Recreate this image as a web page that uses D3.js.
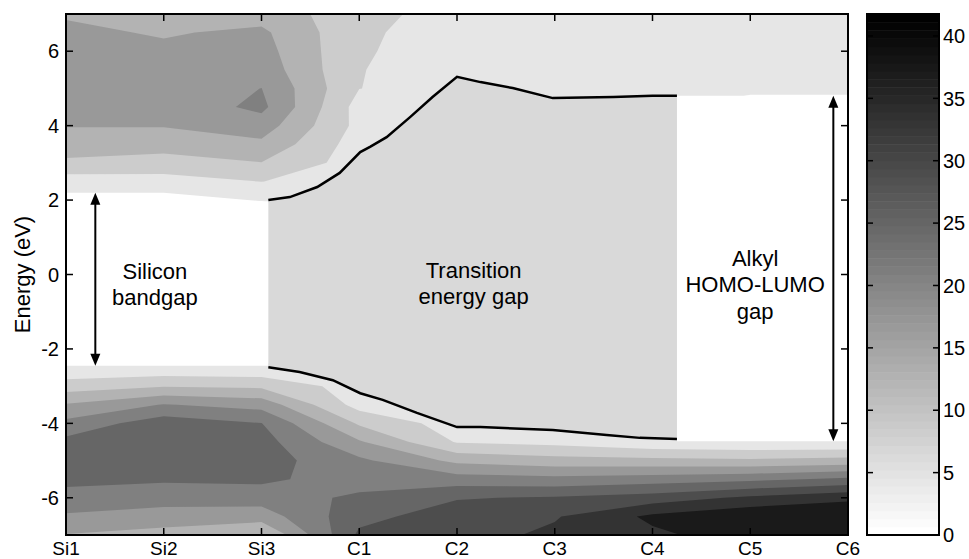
<!DOCTYPE html>
<html>
<head>
<meta charset="utf-8">
<script src="https://cdn.jsdelivr.net/npm/d3@7"></script>
<style>
  body { margin: 0; background: #fff; }
  text { font-family: "Liberation Sans", Arial, sans-serif; fill: #000; }
</style>
</head>
<body>
<div id="chart"></div>
<script>
const width = 969;
const height = 559;

// layer labels along the x axis
const columns = ["Si1", "Si2", "Si3", "C1", "C2", "C3", "C4", "C5", "C6"];

// energy grid (eV), bottom to top
const energies = [-7, -6.5, -6, -5.5, -5, -4.5, -4, -3.5, -3, -2.5, -2, -1.5, -1, -0.5,
  0, 0.5, 1, 1.5, 2, 2.5, 3, 3.5, 4, 4.5, 5, 5.5, 6, 6.5, 7];

// local density of states for each layer, one value per energy above
const dosSi1 = [16.5, 20.3, 23.5, 26.1, 26.7, 26.3, 22.0, 17.0, 10.4, 4.8, 0, 0, 0, 0,
  0, 0, 0, 0, 5.0, 6.3, 11.5, 15.4, 16.8, 17.9, 18.3, 18.3, 17.9, 17.5, 16.3];
const dosSi2 = [15.0, 19.1, 22.6, 25.6, 27.1, 27.5, 27.5, 21.1, 12.2, 5.1, 0, 0, 0, 0,
  0, 0, 0, 0, 5.0, 6.7, 10.8, 14.2, 16.9, 17.9, 18.3, 18.1, 17.5, 16.3, 15.0];
const dosSi3 = [12.1, 18.7, 22.7, 25.9, 26.9, 26.7, 25.1, 19.3, 11.7, 4.8, 0, 0, 0, 0,
  0, 0, 0, 0, 4.4, 8.4, 12.4, 15.8, 18.8, 21.9, 20.9, 19.2, 18.3, 17.5, 15.0];
const dosC1 = [30.0, 27.9, 25.9, 22.9, 21.7, 17.2, 11.9, 6.6, 6.3, 6.3, 6.3, 6.3, 6.3, 6.3,
  6.3, 6.3, 6.3, 6.3, 6.3, 6.3, 6.3, 6.3, 7.1, 6.7, 8.4, 8.5, 8.8, 9.1, 10.0];
const dosC2 = [31.7, 31.3, 28.9, 22.8, 15.6, 8.0, 6.3, 6.3, 6.3, 6.3, 6.3, 6.3, 6.3, 6.3,
  6.3, 6.3, 6.3, 6.3, 6.3, 6.3, 6.3, 6.3, 6.3, 6.3, 6.3, 6.3, 6.3, 6.3, 6.3];
const dosC3 = [34.2, 33.0, 29.6, 22.1, 14.2, 7.1, 6.3, 6.3, 6.3, 6.3, 6.3, 6.3, 6.3, 6.3,
  6.3, 6.3, 6.3, 6.3, 6.3, 6.3, 6.3, 6.3, 6.3, 6.3, 6.3, 6.3, 6.3, 6.3, 6.3];
const dosC4 = [36.7, 38.4, 31.1, 23.0, 13.7, 5.0, 6.3, 6.3, 6.3, 6.3, 6.3, 6.3, 6.3, 6.3,
  6.3, 6.3, 6.3, 6.3, 6.3, 6.3, 6.3, 6.3, 6.3, 6.3, 6.3, 6.3, 6.3, 6.3, 6.3];
const dosC5 = [39.6, 40.9, 34.2, 24.0, 13.3, 4.5, 0, 0, 0, 0, 0, 0, 0, 0,
  0, 0, 0, 0, 0, 0, 0, 0, 0, 0, 6.3, 6.3, 6.3, 6.3, 6.3];
const dosC6 = [40.4, 41.3, 36.6, 25.9, 14.1, 4.5, 0, 0, 0, 0, 0, 0, 0, 0,
  0, 0, 0, 0, 0, 0, 0, 0, 0, 0, 6.3, 6.3, 6.3, 6.3, 6.3];

// contour levels and colour bar range
const levels = [4.17, 8.34, 12.51, 16.68, 20.85, 25.02, 29.19, 33.36, 37.53];
const dosMax = 41.76;
const colorTicks = [0, 5, 10, 15, 20, 25, 30, 35, 40];
const energyTicks = [-6, -4, -2, 0, 2, 4, 6];

// transition region edges (x in layer index units)
const lumoX = [2.07, 2.29, 2.57, 2.80, 3.01, 3.11, 3.28, 3.52, 3.75, 4.0, 4.24, 4.57, 4.98, 5.60, 6.0, 6.25];
const lumoE = [2.0, 2.08, 2.35, 2.73, 3.29, 3.43, 3.69, 4.23, 4.77, 5.31, 5.17, 5.01, 4.74, 4.77, 4.80, 4.80];
const homoX = [2.07, 2.39, 2.73, 3.01, 3.24, 3.59, 4.0, 4.24, 4.98, 5.53, 5.87, 6.25];
const homoE = [-2.49, -2.62, -2.84, -3.19, -3.37, -3.72, -4.10, -4.10, -4.18, -4.31, -4.39, -4.42];

// silicon band edges and alkyl gap edges
const siGapX = [0, 1, 2, 2.07];
const siCBM = [2.2, 2.2, 1.97, 1.97];
const siVBM = [-2.45, -2.45, -2.45, -2.45];
const alkylGapX = [6.25, 8];
const alkylLUMO = [4.8, 4.8];
const alkylHOMO = [-4.48, -4.48];

// gap arrows: position (layer index), top and bottom energies
const arrowX = [0.3, 7.85];
const arrowTop = [2.2, 4.8];
const arrowBottom = [-2.45, -4.48];

const x = d3.scaleLinear().domain([0, columns.length - 1]).range([66, 848]);
const y = d3.scaleLinear().domain([-7, 7]).range([535, 14]);
const grey = d3.scaleLinear().domain([0, dosMax]).range(["#ffffff", "#000000"]);

const svg = d3.select("#chart").append("svg")
  .attr("width", width)
  .attr("height", height);

svg.append("clipPath").attr("id", "plot-clip")
  .append("rect")
  .attr("x", x(0)).attr("y", y(7))
  .attr("width", x(8) - x(0)).attr("height", y(-7) - y(7));

// build grid: row j = energy, column i = layer
const profiles = [dosSi1, dosSi2, dosSi3, dosC1, dosC2, dosC3, dosC4, dosC5, dosC6];
const nx = profiles.length, ny = energies.length;
const grid = new Array(nx * ny);
for (let j = 0; j < ny; j++) {
  for (let i = 0; i < nx; i++) grid[j * nx + i] = profiles[i][j];
}
const dE = energies[1] - energies[0];

const bands = d3.contours().size([nx, ny]).thresholds(levels)(grid);

const gridToPlot = d3.geoTransform({
  point: function(gx, gy) {
    this.stream.point(x(gx - 0.5), y(energies[0] + (gy - 0.5) * dE));
  }
});
const path = d3.geoPath().projection(gridToPlot);

const g = svg.append("g").attr("clip-path", "url(#plot-clip)");

g.selectAll("path.band")
  .data(bands)
  .enter().append("path")
  .attr("class", "band")
  .attr("d", path)
  .attr("fill", d => grey(d.value))
  .attr("stroke", "none");

// band gaps
const gapArea = d3.area()
  .x(d => x(d[0]))
  .y0(d => y(d[1]))
  .y1(d => y(d[2]));

g.append("path")
  .attr("d", gapArea(siGapX.map((v, i) => [v, siVBM[i], siCBM[i]])))
  .attr("fill", "#fff");

g.append("path")
  .attr("d", gapArea(alkylGapX.map((v, i) => [v, alkylHOMO[i], alkylLUMO[i]])))
  .attr("fill", "#fff");

// transition region
const lumo = lumoX.map((v, i) => [v, lumoE[i]]);
const homo = homoX.map((v, i) => [v, homoE[i]]);
const line = d3.line().x(d => x(d[0])).y(d => y(d[1]));

g.append("path")
  .attr("d", line(lumo.concat(homo.slice().reverse())) + "Z")
  .attr("fill", "#d9d9d9");

[lumo, homo].forEach(pts => {
  g.append("path")
    .attr("d", line(pts))
    .attr("fill", "none")
    .attr("stroke", "#000")
    .attr("stroke-width", 2.5);
});

// frame
svg.append("rect")
  .attr("x", x(0)).attr("y", y(7))
  .attr("width", x(8) - x(0)).attr("height", y(-7) - y(7))
  .attr("fill", "none").attr("stroke", "#000").attr("stroke-width", 2);

const tickLen = 7;
const ticks = svg.append("g").attr("stroke", "#000").attr("stroke-width", 1.5);
columns.forEach((c, i) => {
  ticks.append("line").attr("x1", x(i)).attr("x2", x(i)).attr("y1", y(-7)).attr("y2", y(-7) - tickLen);
  ticks.append("line").attr("x1", x(i)).attr("x2", x(i)).attr("y1", y(7)).attr("y2", y(7) + tickLen);
});
energyTicks.forEach(e => {
  ticks.append("line").attr("x1", x(0)).attr("x2", x(0) + tickLen).attr("y1", y(e)).attr("y2", y(e));
  ticks.append("line").attr("x1", x(8)).attr("x2", x(8) - tickLen).attr("y1", y(e)).attr("y2", y(e));
});

svg.append("g").selectAll("text")
  .data(columns)
  .enter().append("text")
  .attr("x", (d, i) => x(i))
  .attr("y", 555)
  .attr("text-anchor", "middle")
  .attr("font-size", 19)
  .text(d => d);

svg.append("g").selectAll("text")
  .data(energyTicks)
  .enter().append("text")
  .attr("x", 59)
  .attr("y", d => y(d))
  .attr("dy", "0.36em")
  .attr("text-anchor", "end")
  .attr("font-size", 20)
  .text(d => d);

svg.append("text")
  .attr("transform", `translate(30,${y(0)}) rotate(-90)`)
  .attr("text-anchor", "middle")
  .attr("font-size", 22)
  .text("Energy (eV)");

// arrows
const headLen = 12, headW = 5;
arrowX.forEach((ax, i) => {
  const px = x(ax), top = y(arrowTop[i]), bot = y(arrowBottom[i]);
  svg.append("line")
    .attr("x1", px).attr("x2", px)
    .attr("y1", top + headLen - 1).attr("y2", bot - headLen + 1)
    .attr("stroke", "#000").attr("stroke-width", 2);
  svg.append("path")
    .attr("d", `M${px},${top} L${px - headW},${top + headLen} L${px + headW},${top + headLen} Z`)
    .attr("fill", "#000");
  svg.append("path")
    .attr("d", `M${px},${bot} L${px - headW},${bot - headLen} L${px + headW},${bot - headLen} Z`)
    .attr("fill", "#000");
});

// annotations
function label(lines, xi, baseline) {
  const t = svg.append("text")
    .attr("text-anchor", "middle")
    .attr("font-size", 22);
  lines.forEach((s, k) => {
    t.append("tspan").attr("x", x(xi)).attr("y", baseline + k * 26.5).text(s);
  });
}
label(["Silicon", "bandgap"], 0.91, y(0) + 4);
label(["Transition", "energy gap"], 4.17, y(0) + 3);
label(["Alkyl", "HOMO-LUMO", "gap"], 7.05, y(0) - 9);

// colour bar
const cb = { x0: 867, x1: 939 };
const cy = d3.scaleLinear().domain([0, dosMax]).range([535, 14]);
const nSteps = 64;
const cbSteps = d3.range(nSteps);
svg.append("g").selectAll("rect")
  .data(cbSteps)
  .enter().append("rect")
  .attr("x", cb.x0)
  .attr("width", cb.x1 - cb.x0)
  .attr("y", d => cy((d + 1) * dosMax / nSteps))
  .attr("height", d => cy(d * dosMax / nSteps) - cy((d + 1) * dosMax / nSteps) + 0.5)
  .attr("fill", d => grey(d * dosMax / (nSteps - 1)));

svg.append("rect")
  .attr("x", cb.x0).attr("y", cy(dosMax))
  .attr("width", cb.x1 - cb.x0).attr("height", cy(0) - cy(dosMax))
  .attr("fill", "none").attr("stroke", "#000").attr("stroke-width", 2);

const cbTicks = svg.append("g").attr("stroke", "#000").attr("stroke-width", 1.5);
colorTicks.forEach(v => {
  cbTicks.append("line").attr("x1", cb.x0).attr("x2", cb.x0 + 6).attr("y1", cy(v)).attr("y2", cy(v));
  cbTicks.append("line").attr("x1", cb.x1).attr("x2", cb.x1 - 6).attr("y1", cy(v)).attr("y2", cy(v));
});

svg.append("g").selectAll("text")
  .data(colorTicks)
  .enter().append("text")
  .attr("x", 943)
  .attr("y", d => cy(d))
  .attr("dy", "0.36em")
  .attr("font-size", 20)
  .text(d => d);
</script>
</body>
</html>
